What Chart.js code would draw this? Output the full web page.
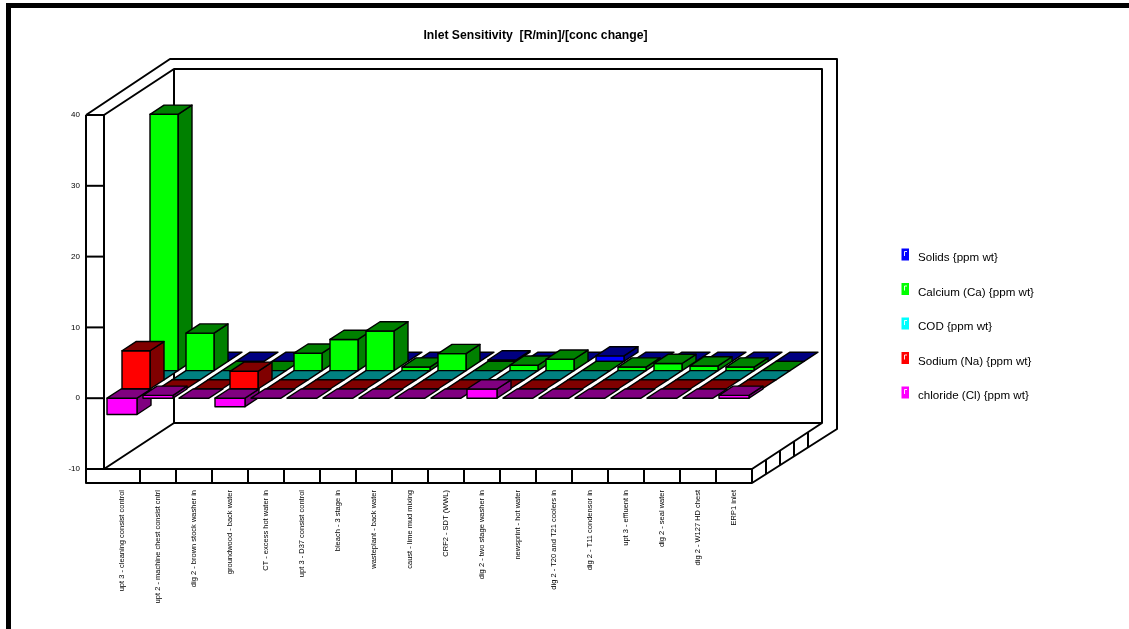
<!DOCTYPE html>
<html>
<head>
<meta charset="utf-8">
<title>Inlet Sensitivity</title>
<script src="https://cdn.jsdelivr.net/npm/chart.js@4"></script>
<style>
  html, body { margin: 0; padding: 0; background: #fff; overflow: hidden; }
  #frame { position: absolute; left: 6px; top: 3px; width: 1200px; height: 700px; border-left: 5px solid #000; border-top: 5px solid #000; }
  #myChart { position: absolute; left: 0; top: 0; }
</style>
</head>
<body>
<div id="frame"></div>
<canvas id="myChart" width="1129" height="629"></canvas>
<script>
'use strict'

// Chart data

const categories = [
  'upt 3 - cleaning consist control',
  'upt 2 - machine chest consist cntrl',
  'dig 2 - brown stock washer in',
  'groundwood - back water',
  'CT - excess hot water in',
  'upt 3 - D37 consist control',
  'bleach - 3 stage in',
  'wasteplant - back water',
  'caust - lime mud mixing',
  'CRF2 - SDT (WWL)',
  'dig 2 - two stage washer in',
  'newsprint - hot water',
  'dig 2 - T20 and T21 coolers in',
  'dig 2 - T11 condensor in',
  'upt 3 - effluent in',
  'dig 2 - seal water',
  'dig 2 - W127 HD chest',
  'ERP1 inlet'
];

const seriesNames = [
  'Solids {ppm wt}',
  'Calcium (Ca) {ppm wt}',
  'COD {ppm wt}',
  'Sodium (Na) {ppm wt}',
  'chloride (Cl) {ppm wt}'
];

const solids = [0, 0, 0, 0, 0, 0, 0, 0, 0, 0.2, 0, 0, 0.78, 0, 0, 0, 0, 0];
const calcium = [36.2, 5.3, 0, 0, 2.46, 4.4, 5.6, 0.5, 2.4, 0, 0.76, 1.6, 0, 0.5, 1.0, 0.66, 0.5, 0];
const cod = [0, 0, 0, 0, 0, 0, 0, 0, 0, 0, 0, 0, 0, 0, 0, 0, 0, 0];
const sodium = [5.4, 0, 0, 2.5, 0, 0, 0, 0, 0, 0, 0, 0, 0, 0, 0, 0, 0, 0];
const chloride = [-2.3, 0.4, 0, -1.2, 0, 0, 0, 0, 0, 0, 1.3, 0, 0, 0, 0, 0, 0, 0.4];

const seriesValues = [solids, calcium, cod, sodium, chloride];

const frontColors = ['#0000ff', '#00ff00', '#00ffff', '#ff0000', '#ff00ff'];
const darkColors = ['#000080', '#008000', '#008080', '#800000', '#800080'];
const legendColors = frontColors;

// 3D look: oblique offsets in pixels

const rowStepX = 14;
const rowStepY = 9.2;
const boxDepthX = 14;
const boxDepthY = 9.2;
const wallDepthX = 70;
const wallDepthY = 46;

function strokeLine(ctx, points) {
  ctx.beginPath();
  ctx.moveTo(points[0][0], points[0][1]);
  for (let i = 1; i < points.length; i++) {
    ctx.lineTo(points[i][0], points[i][1]);
  }
  ctx.stroke();
}

function fillShape(ctx, points, color) {
  ctx.fillStyle = color;
  ctx.beginPath();
  ctx.moveTo(points[0][0], points[0][1]);
  for (let i = 1; i < points.length; i++) {
    ctx.lineTo(points[i][0], points[i][1]);
  }
  ctx.closePath();
  ctx.fill();
  ctx.stroke();
}

function drawWalls(chart) {
  const ctx = chart.ctx;
  const area = chart.chartArea;
  const xScale = chart.scales.x;
  const yScale = chart.scales.y;
  const l = area.left;
  const r = area.right;
  const t = area.top;
  const b = area.bottom;
  const bandL = l - 18;
  const bandB = b + 14;

  // inner box
  strokeLine(ctx, [[l, b], [l, t], [l + wallDepthX, t - wallDepthY], [r + wallDepthX, t - wallDepthY], [r + wallDepthX, b - wallDepthY], [r, b], [l, b]]);
  strokeLine(ctx, [[l, b], [l + wallDepthX, b - wallDepthY], [r + wallDepthX, b - wallDepthY]]);
  strokeLine(ctx, [[l + wallDepthX, t - wallDepthY], [l + wallDepthX, b - wallDepthY]]);

  // outer band
  strokeLine(ctx, [[bandL, t], [bandL + 84, t - 56], [r + 85, t - 56], [r + 85, bandB - 54], [r, bandB], [bandL, bandB], [bandL, t]]);
  strokeLine(ctx, [[r, b], [r, bandB]]);

  // y ticks across the left band
  yScale.ticks.forEach((tick) => {
    const y = yScale.getPixelForValue(tick.value);
    strokeLine(ctx, [[bandL, y], [l, y]]);
  });

  // x ticks across the bottom band
  for (let i = 1; i < categories.length; i++) {
    const x = (xScale.getPixelForValue(i - 1) + xScale.getPixelForValue(i)) / 2;
    strokeLine(ctx, [[x, b], [x, bandB]]);
  }

  // depth ticks, one per series row
  for (let k = 1; k < seriesNames.length; k++) {
    const x = r + rowStepX * k;
    strokeLine(ctx, [[x, b - rowStepX * k * wallDepthY / wallDepthX], [x, bandB - rowStepX * k * 54 / 85]]);
  }
}

function drawBox(ctx, el, row, front, dark) {
  const offX = rowStepX * row;
  const offY = rowStepY * row;
  const left = el.x - el.width / 2 + offX;
  const right = el.x + el.width / 2 + offX;
  const top = Math.min(el.y, el.base) - offY;
  const bottom = Math.max(el.y, el.base) - offY;

  if (bottom - top > 0.5) {
    fillShape(ctx, [[right, top], [right + boxDepthX, top - boxDepthY], [right + boxDepthX, bottom - boxDepthY], [right, bottom]], dark);
    fillShape(ctx, [[left, top], [right, top], [right, bottom], [left, bottom]], front);
  }
  fillShape(ctx, [[left, top], [left + boxDepthX, top - boxDepthY], [right + boxDepthX, top - boxDepthY], [right, top]], dark);
}

const chart3d = {
  id: 'chart3d',
  beforeDatasetsDraw(chart) {
    const ctx = chart.ctx;
    ctx.save();
    ctx.strokeStyle = '#000';
    ctx.lineWidth = 2;
    ctx.lineJoin = 'round';
    drawWalls(chart);
    ctx.lineWidth = 1.4;
    // back row first so the front rows cover it
    for (let d = 0; d < seriesNames.length; d++) {
      const row = seriesNames.length - 1 - d;
      const bars = chart.getDatasetMeta(d).data;
      for (let i = 0; i < bars.length; i++) {
        drawBox(ctx, bars[i], row, frontColors[d], darkColors[d]);
      }
    }
    ctx.restore();
    return false;
  }
};

const sideLegend = {
  id: 'sideLegend',
  afterDraw(chart) {
    const ctx = chart.ctx;
    ctx.save();
    ctx.font = '11.6px "Liberation Sans"';
    ctx.textAlign = 'left';
    ctx.textBaseline = 'middle';
    for (let i = 0; i < seriesNames.length; i++) {
      const y = 258 + i * 34.5;
      ctx.fillStyle = legendColors[i];
      ctx.fillRect(901.5, y - 9.5, 7.5, 12);
      ctx.strokeStyle = 'rgba(255,255,255,0.9)';
      ctx.lineWidth = 1;
      ctx.beginPath();
      ctx.moveTo(904.5, y - 2);
      ctx.lineTo(904.5, y - 6.5);
      ctx.lineTo(907, y - 6.5);
      ctx.stroke();
      ctx.fillStyle = '#000';
      ctx.fillText(seriesNames[i], 918, y);
    }
    ctx.restore();
  }
};

const datasets = [];
for (let i = 0; i < seriesNames.length; i++) {
  datasets.push({
    label: seriesNames[i],
    data: seriesValues[i],
    backgroundColor: frontColors[i],
    grouped: false,
    categoryPercentage: 1,
    barPercentage: i === seriesNames.length - 1 ? 30 / 36 : 28 / 36
  });
}

Chart.defaults.font.family = '"Liberation Sans", Arial, sans-serif';
Chart.defaults.color = '#000';

new Chart(document.getElementById('myChart'), {
  type: 'bar',
  data: { labels: categories, datasets: datasets },
  plugins: [chart3d, sideLegend],
  options: {
    responsive: false,
    animation: false,
    layout: { padding: { left: 0, right: 58, top: 0, bottom: 0 } },
    plugins: {
      legend: { display: false },
      tooltip: { enabled: false },
      title: {
        display: true,
        text: 'Inlet Sensitivity  [R/min]/[conc change]',
        font: { size: 12.2, weight: 'bold' },
        color: '#000',
        padding: { top: 28.5, bottom: 71.86 }
      }
    },
    scales: {
      x: {
        grid: { display: false },
        border: { display: false },
        ticks: { autoSkip: false, minRotation: 90, maxRotation: 90, padding: 13, font: { size: 7.5 } },
        afterFit(scale) {
          scale.height = 160;
          scale.paddingLeft = 0;
          scale.paddingRight = 0;
        }
      },
      y: {
        min: -10,
        max: 40,
        grid: { display: false },
        border: { display: false },
        ticks: { stepSize: 10, padding: 16, font: { size: 8 } },
        afterFit(scale) {
          scale.width = 104;
        }
      },
      // empty axis, only keeps the room on the right for the walls and the legend
      side: {
        position: 'right',
        grid: { display: false },
        border: { display: false },
        ticks: { display: false },
        afterFit(scale) {
          scale.width = 319;
        }
      }
    }
  }
});
</script>
</body>
</html>
